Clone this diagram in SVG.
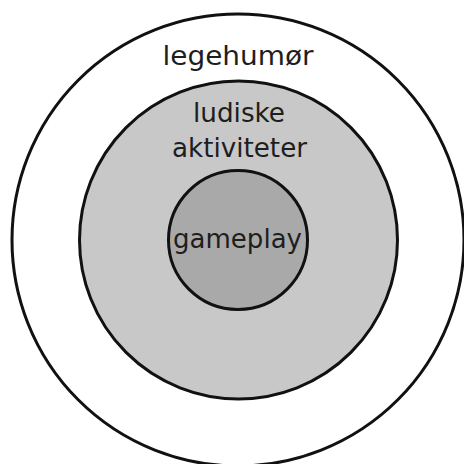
<svg xmlns="http://www.w3.org/2000/svg" width="464" height="464" viewBox="0 0 464 464">
<style>
.ring{stroke:#111;stroke-width:3}
.lbl{font-family:"DejaVu Sans","Liberation Sans",sans-serif;font-size:26px;fill:#1e1e1e;text-anchor:middle}
</style>
<rect width="464" height="464" fill="#fff"/>
<g id="legehumor">
<circle class="ring" cx="238" cy="240" r="226" fill="#fff"/>
<text class="lbl" x="238" y="65" textLength="151" lengthAdjust="spacingAndGlyphs">legehumør</text>
</g>
<g id="ludiske">
<circle class="ring" cx="238.5" cy="240" r="159" fill="#c8c8c8"/>
<text class="lbl" x="239" y="122" textLength="92" lengthAdjust="spacingAndGlyphs">ludiske</text>
<text class="lbl" x="239.5" y="157" textLength="135" lengthAdjust="spacingAndGlyphs">aktiviteter</text>
</g>
<g id="gameplay">
<circle class="ring" cx="238" cy="240" r="69.5" fill="#a9a9a9"/>
<text class="lbl" x="237.5" y="248" textLength="129" lengthAdjust="spacingAndGlyphs">gameplay</text>
</g>
<g id="connectors"/>
</svg>
